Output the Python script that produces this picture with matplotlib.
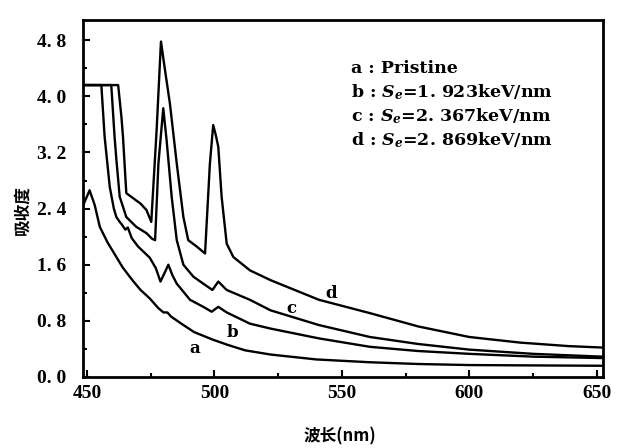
import numpy as np
import matplotlib
matplotlib.use("Agg")
import matplotlib.pyplot as plt
from matplotlib.ticker import MultipleLocator, FixedLocator

plt.rcParams['font.family'] = ['DejaVu Serif', 'Noto Sans CJK SC', 'DejaVu Sans']
plt.rcParams['mathtext.fontset'] = 'custom'
plt.rcParams['mathtext.it'] = 'DejaVu Serif:italic:bold'
plt.rcParams['mathtext.rm'] = 'DejaVu Serif:bold'

# curve a: pristine
wl_a = [448.5, 451, 453, 455, 458, 461, 464, 468, 471, 474.6, 478, 480, 481.5,
        483, 487, 492, 499.5, 505, 512, 522, 540, 561, 580, 600, 625, 652]
ab_a = [2.45, 2.66, 2.45, 2.14, 1.92, 1.74, 1.56, 1.37, 1.24, 1.12, 0.98, 0.92, 0.92,
        0.86, 0.76, 0.64, 0.53, 0.46, 0.38, 0.32, 0.25, 0.21, 0.185, 0.17, 0.165, 0.16]

# curve b: Se = 1.923 keV/nm
wl_b = [448.5, 455.6, 456.9, 458.9, 460.5, 461.5, 462.8, 463.5, 465, 466, 467.5, 470,
        474.6, 477, 478.8, 480, 481.9, 483.5, 485.2, 490.4, 495.6, 498.9, 501.5,
        504.8, 513.9, 522, 541, 561, 580, 600, 625, 652]
ab_b = [4.16, 4.16, 3.42, 2.71, 2.40, 2.28, 2.21, 2.18, 2.10, 2.13, 1.98, 1.86,
        1.70, 1.55, 1.36, 1.45, 1.60, 1.45, 1.33, 1.10, 1.00, 0.93, 1.00,
        0.92, 0.76, 0.69, 0.55, 0.43, 0.37, 0.33, 0.29, 0.27]

# curve c: Se = 2.367 keV/nm
wl_c = [448.5, 459.5, 460.8, 461.5, 462.8, 465.4, 469.3, 473.3, 475.5, 476.7, 478,
        479.9, 481.2, 483.2, 485.2, 487.8, 491.7, 495.6, 499.2, 501.5, 504.8,
        513.9, 522, 541, 561, 580, 600, 625, 652]
ab_c = [4.16, 4.16, 3.42, 3.10, 2.57, 2.28, 2.14, 2.05, 1.97, 1.95, 3.04,
        3.83, 3.38, 2.57, 1.95, 1.60, 1.43, 1.33, 1.24, 1.36, 1.24,
        1.10, 0.95, 0.74, 0.57, 0.47, 0.39, 0.33, 0.29]

# curve d: Se = 2.869 keV/nm
wl_d = [448.5, 462.2, 463.5, 464.1, 465.4, 468, 471, 473.3, 475.2, 477.3, 479,
        480.6, 482.5, 485.2, 487.8, 489.7, 493, 496.3, 498.2, 499.5, 500.5, 501.5,
        502.8, 504.8, 507.4, 513.9, 522, 541, 561, 580, 600, 620, 639, 652]
ab_d = [4.16, 4.16, 3.70, 3.42, 2.62, 2.55, 2.47, 2.38, 2.21, 3.52, 4.78,
        4.37, 3.90, 3.04, 2.28, 1.95, 1.86, 1.76, 3.04, 3.59, 3.45, 3.28,
        2.57, 1.90, 1.71, 1.52, 1.38, 1.10, 0.91, 0.72, 0.57, 0.49, 0.44, 0.42]

curve_labels = ['a', 'b', 'c', 'd']
label_pos = [(492.4, 0.41), (506.9, 0.63), (530.3, 0.98), (546.0, 1.19)]
legend_lines = ['a : Pristine',
                'b : $S_e$=1. 923keV/nm',
                'c : $S_e$=2. 367keV/nm',
                'd : $S_e$=2. 869keV/nm']

yticks = [0.0, 0.8, 1.6, 2.4, 3.2, 4.0, 4.8]
ytick_labels = ['0. 0', '0. 8', '1. 6', '2. 4', '3. 2', '4. 0', '4. 8']
xticks = [450, 500, 550, 600, 650]

fig = plt.figure(figsize=(6.17, 4.48), dpi=100)
ax = fig.add_axes([0.1345, 0.1585, 0.8425, 0.7965])

for wl, ab in [(wl_a, ab_a), (wl_b, ab_b), (wl_c, ab_c), (wl_d, ab_d)]:
    ax.plot(wl, ab, color='black', lw=1.7, solid_joinstyle='round')

for lab, (x, y) in zip(curve_labels, label_pos):
    ax.text(x, y, lab, fontsize=12, fontweight='bold', ha='center', va='center')

for i, line in enumerate(legend_lines):
    ax.text(553.5, 4.40 - i * 0.34, line, fontsize=12.5, fontweight='bold',
            ha='left', va='center')

ax.set_xlim(448.4, 652.4)
ax.set_ylim(0, 5.085)
ax.yaxis.set_major_locator(FixedLocator(yticks))
ax.set_yticklabels(ytick_labels)
ax.yaxis.set_minor_locator(MultipleLocator(0.4))
ax.xaxis.set_major_locator(FixedLocator(xticks))
ax.xaxis.set_minor_locator(MultipleLocator(25))
ax.tick_params(which='both', direction='in', width=1.5)
ax.tick_params(which='major', length=5)
ax.tick_params(which='minor', length=3)
ax.tick_params(axis='y', which='major', pad=12)
ax.tick_params(axis='x', which='major', pad=6)
for lbl in ax.get_xticklabels() + ax.get_yticklabels():
    lbl.set_fontweight('bold')
    lbl.set_family('Liberation Serif')
    lbl.set_fontsize(14)
for sp in ax.spines.values():
    sp.set_linewidth(2)

ax.set_xlabel('波长(nm)', fontsize=12, fontweight='bold',
              family=['Noto Sans CJK SC', 'DejaVu Serif'], va='center')
ax.set_ylabel('吸收度', fontsize=12, fontweight='bold',
              family=['Noto Sans CJK SC', 'DejaVu Serif'], va='center')
ax.xaxis.set_label_coords(0.494, -0.168)
ax.yaxis.set_label_coords(-0.117, 0.468)

fig.savefig('out.png', dpi=100, facecolor='white')
